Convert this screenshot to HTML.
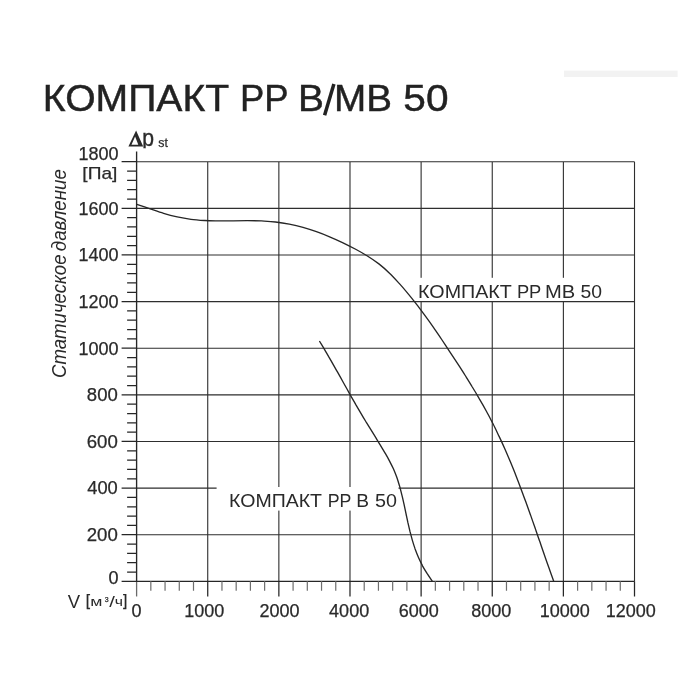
<!DOCTYPE html>
<html><head><meta charset="utf-8"><title>КОМПАКТ РР В/МВ 50</title>
<style>html,body{margin:0;padding:0;background:#fff;}body{width:700px;height:700px;overflow:hidden;position:relative;font-family:"Liberation Sans",sans-serif;}svg{position:absolute;left:0;top:0;will-change:transform;}text{font-family:"Liberation Sans",sans-serif;}.s text,text.s{stroke:#2a2a2a;stroke-width:0.25px;}</style></head><body>
<svg width="700" height="700" viewBox="0 0 700 700">
<rect x="0" y="0" width="700" height="700" fill="#ffffff"/>
<rect x="564" y="70.6" width="113.6" height="6.4" fill="#f2f2f2"/>
<text x="42.80" y="111.40" font-size="37.5" fill="#222222" textLength="186.40" lengthAdjust="spacingAndGlyphs" stroke="#222222" stroke-width="0.45">КОМПАКТ</text>
<text x="239.91" y="111.40" font-size="37.5" fill="#222222" textLength="48.61" lengthAdjust="spacingAndGlyphs" stroke="#222222" stroke-width="0.45">РР</text>
<text x="297.91" y="111.40" font-size="37.5" fill="#222222" textLength="25.94" lengthAdjust="spacingAndGlyphs" stroke="#222222" stroke-width="0.45">В</text>
<path d="M324.6 115.2L333.9 84.0" stroke="#222222" stroke-width="3.5" fill="none"/>
<text x="334.03" y="111.40" font-size="37.5" fill="#222222" textLength="58.01" lengthAdjust="spacingAndGlyphs" stroke="#222222" stroke-width="0.45">МВ</text>
<text x="403.37" y="111.40" font-size="37.5" fill="#222222" textLength="45.22" lengthAdjust="spacingAndGlyphs" stroke="#222222" stroke-width="0.45">50</text>
<path d="M207.73 161.70V581.37M278.86 161.70V581.37M349.99 161.70V581.37M421.12 161.70V581.37M492.25 161.70V581.37M563.38 161.70V581.37M634.51 161.70V581.37M136.60 161.70H634.51M136.60 208.33H634.51M136.60 254.96H634.51M136.60 301.59H634.51M136.60 348.22H634.51M136.60 394.85H634.51M136.60 441.48H634.51M136.60 488.11H634.51M136.60 534.74H634.51" stroke="#2e2e2e" stroke-width="1.1" fill="none"/>
<rect x="417" y="277.8" width="190" height="23.2" fill="#fff"/>
<rect x="216.6" y="487.0" width="181.9" height="23.6" fill="#fff"/>
<path d="M136.60 581.37V596.47" stroke="#6a6a6a" stroke-width="1.3" fill="none"/>
<path d="M136.60 151.5V581.37M121.60 581.37H634.51" stroke="#262626" stroke-width="1.35" fill="none"/>
<path d="M121.60 161.70H136.60M127.10 171.03H136.60M127.10 180.35H136.60M127.10 189.68H136.60M127.10 199.00H136.60M121.60 208.33H136.60M127.10 217.66H136.60M127.10 226.98H136.60M127.10 236.31H136.60M127.10 245.63H136.60M121.60 254.96H136.60M127.10 264.29H136.60M127.10 273.61H136.60M127.10 282.94H136.60M127.10 292.26H136.60M121.60 301.59H136.60M127.10 310.92H136.60M127.10 320.24H136.60M127.10 329.57H136.60M127.10 338.89H136.60M121.60 348.22H136.60M127.10 357.55H136.60M127.10 366.87H136.60M127.10 376.20H136.60M127.10 385.52H136.60M121.60 394.85H136.60M127.10 404.18H136.60M127.10 413.50H136.60M127.10 422.83H136.60M127.10 432.15H136.60M121.60 441.48H136.60M127.10 450.81H136.60M127.10 460.13H136.60M127.10 469.46H136.60M127.10 478.78H136.60M121.60 488.11H136.60M127.10 497.44H136.60M127.10 506.76H136.60M127.10 516.09H136.60M127.10 525.41H136.60M121.60 534.74H136.60M127.10 544.07H136.60M127.10 553.39H136.60M127.10 562.72H136.60M127.10 572.04H136.60M207.73 581.37V596.47M278.86 581.37V596.47M349.99 581.37V596.47M421.12 581.37V596.47M492.25 581.37V596.47M563.38 581.37V596.47M634.51 581.37V596.47" stroke="#262626" stroke-width="1.25" fill="none"/>
<path d="M150.83 581.37V590.87M165.05 581.37V590.87M179.28 581.37V590.87M193.50 581.37V590.87M221.96 581.37V590.87M236.18 581.37V590.87M250.41 581.37V590.87M264.63 581.37V590.87M293.09 581.37V590.87M307.31 581.37V590.87M321.54 581.37V590.87M335.76 581.37V590.87M364.22 581.37V590.87M378.44 581.37V590.87M392.67 581.37V590.87M406.89 581.37V590.87M435.35 581.37V590.87M449.57 581.37V590.87M463.80 581.37V590.87M478.02 581.37V590.87M506.48 581.37V590.87M520.70 581.37V590.87M534.93 581.37V590.87M549.15 581.37V590.87M577.61 581.37V590.87M591.83 581.37V590.87M606.06 581.37V590.87M620.28 581.37V590.87" stroke="#6e6e6e" stroke-width="1.2" fill="none"/>
<path id="mb" d="M136.8 204.3C139.0 205.0 145.7 207.3 150.2 208.8C154.6 210.3 159.1 212.0 163.6 213.3C168.1 214.7 172.6 215.9 177.2 216.9C181.7 217.9 186.3 218.7 191.0 219.3C195.6 219.9 200.3 220.2 204.9 220.5C209.6 220.8 214.3 220.8 219.0 220.9C223.7 220.9 228.5 220.8 233.2 220.8C237.9 220.8 242.6 220.7 247.4 220.7C252.1 220.7 256.8 220.7 261.5 220.9C266.2 221.2 270.8 221.4 275.5 222.0C280.1 222.5 284.7 223.2 289.3 224.1C293.9 225.0 298.5 226.1 303.0 227.4C307.5 228.7 312.0 230.1 316.4 231.7C320.9 233.3 325.3 235.0 329.6 236.8C334.0 238.6 338.3 240.6 342.5 242.6C346.8 244.7 351.0 246.8 355.2 249.0C359.3 251.2 363.4 253.5 367.4 256.0C371.4 258.5 375.2 261.1 378.9 263.9C382.6 266.8 386.1 269.9 389.5 273.2C392.9 276.4 396.0 279.9 399.2 283.4C402.4 286.9 405.4 290.5 408.4 294.1C411.4 297.7 414.3 301.4 417.2 305.1C420.1 308.8 422.8 312.6 425.6 316.4C428.4 320.2 431.1 324.0 433.8 327.9C436.4 331.7 439.1 335.6 441.7 339.5C444.3 343.4 446.9 347.4 449.5 351.3C452.1 355.2 454.7 359.1 457.3 363.1C459.8 367.0 462.4 371.0 464.9 375.0C467.4 379.0 469.9 382.9 472.3 387.0C474.8 391.0 477.2 395.0 479.5 399.1C481.9 403.1 484.2 407.2 486.4 411.3C488.7 415.4 490.8 419.6 493.0 423.8C495.1 427.9 497.1 432.2 499.1 436.4C501.1 440.6 503.1 444.9 505.0 449.2C506.9 453.5 508.7 457.8 510.5 462.1C512.3 466.5 514.1 470.8 515.8 475.2C517.5 479.6 519.2 484.0 520.8 488.4C522.5 492.8 524.1 497.2 525.7 501.6C527.3 506.1 528.9 510.5 530.5 514.9C532.1 519.4 533.6 523.8 535.2 528.3C536.7 532.7 538.2 537.2 539.8 541.6C541.3 546.0 542.8 550.5 544.4 554.9C545.9 559.3 547.5 563.8 549.1 568.2C550.6 572.6 553.0 579.2 553.8 581.4" stroke="#262626" stroke-width="1.35" fill="none"/>
<path id="b" d="M319.4 341.0C320.2 342.3 322.6 346.3 324.2 348.9C325.7 351.6 327.3 354.2 328.8 356.9C330.4 359.6 331.9 362.2 333.4 364.9C334.9 367.6 336.5 370.3 338.0 372.9C339.5 375.6 341.0 378.3 342.5 381.0C344.0 383.7 345.5 386.4 347.0 389.0C348.5 391.7 350.0 394.4 351.5 397.1C353.1 399.8 354.6 402.4 356.1 405.1C357.7 407.8 359.2 410.4 360.8 413.1C362.3 415.7 363.9 418.4 365.5 421.0C367.1 423.6 368.7 426.3 370.4 428.9C372.0 431.5 373.6 434.1 375.2 436.7C376.8 439.4 378.5 442.0 380.0 444.6C381.6 447.3 383.2 449.9 384.8 452.6C386.3 455.2 387.9 457.9 389.3 460.6C390.7 463.3 392.1 466.0 393.4 468.8C394.6 471.6 395.8 474.5 396.8 477.3C397.8 480.2 398.7 483.2 399.6 486.1C400.4 489.1 401.2 492.1 401.9 495.1C402.7 498.1 403.3 501.1 404.0 504.1C404.6 507.1 405.3 510.2 405.9 513.2C406.5 516.2 407.2 519.2 407.8 522.2C408.5 525.2 409.2 528.2 409.9 531.2C410.7 534.2 411.5 537.2 412.3 540.1C413.2 543.1 414.1 546.0 415.1 548.9C416.2 551.8 417.3 554.7 418.5 557.5C419.7 560.3 421.1 563.0 422.5 565.8C424.0 568.5 425.6 571.1 427.2 573.7C428.9 576.3 431.5 580.1 432.4 581.4" stroke="#262626" stroke-width="1.35" fill="none"/>
<text class="yl s" x="78.46" y="159.8" font-size="18" fill="#2a2a2a">1800</text>
<text class="yl s" x="78.46" y="214.7" font-size="18" fill="#2a2a2a">1600</text>
<text class="yl s" x="78.46" y="261.3" font-size="18" fill="#2a2a2a">1400</text>
<text class="yl s" x="78.46" y="307.9" font-size="18" fill="#2a2a2a">1200</text>
<text class="yl s" x="78.46" y="354.6" font-size="18" fill="#2a2a2a">1000</text>
<text x="86.89" y="401.20" font-size="18" fill="#2a2a2a" textLength="30.93" lengthAdjust="spacingAndGlyphs" class="yl s">800</text>
<text x="86.75" y="447.83" font-size="18" fill="#2a2a2a" textLength="31.07" lengthAdjust="spacingAndGlyphs" class="yl s">600</text>
<text x="87.28" y="494.46" font-size="18" fill="#2a2a2a" textLength="30.53" lengthAdjust="spacingAndGlyphs" class="yl s">400</text>
<text x="86.76" y="541.09" font-size="18" fill="#2a2a2a" textLength="31.06" lengthAdjust="spacingAndGlyphs" class="yl s">200</text>
<text class="yl s" x="108.49" y="584.4" font-size="18" fill="#2a2a2a">0</text>
<text class="xl s" x="131.39" y="617.3" font-size="18" fill="#2a2a2a">0</text>
<text class="xl s" x="184.24" y="617.3" font-size="18" fill="#2a2a2a">1000</text>
<text class="xl s" x="259.48" y="617.3" font-size="18" fill="#2a2a2a">2000</text>
<text class="xl s" x="329.12" y="617.3" font-size="18" fill="#2a2a2a">4000</text>
<text class="xl s" x="398.67" y="617.3" font-size="18" fill="#2a2a2a">6000</text>
<text class="xl s" x="471.34" y="617.3" font-size="18" fill="#2a2a2a">8000</text>
<text class="xl s" x="539.64" y="617.3" font-size="18" fill="#2a2a2a">10000</text>
<text class="xl s" x="605.84" y="617.3" font-size="18" fill="#2a2a2a">12000</text>
<text id="pa" x="82.34" y="178.60" font-size="17" fill="#2a2a2a" textLength="35.03" lengthAdjust="spacingAndGlyphs" class="s">[Па]</text>
<path d="M128.4 146.6L136.1 130.4L143.2 146.6ZM131.5 144.8L138.3 144.8L135.1 136.4Z" fill="#2a2a2a" fill-rule="evenodd"/>
<clipPath id="cp"><rect x="140" y="120" width="30" height="28.2"/></clipPath>
<g clip-path="url(#cp)"><g transform="translate(0 146.5) scale(1 1.18) translate(0 -146.5)">
<text id="p" x="142.34" y="146.50" font-size="21" fill="#2a2a2a" textLength="11.75" lengthAdjust="spacingAndGlyphs" stroke="#2a2a2a" stroke-width="0.35">p</text>
</g></g>
<text id="st" x="158.36" y="147.40" font-size="12.5" fill="#2a2a2a" textLength="9.64" lengthAdjust="spacingAndGlyphs" class="s">st</text>
<text id="v" x="67.82" y="607.60" font-size="18" fill="#2a2a2a" textLength="12.36" lengthAdjust="spacingAndGlyphs">V</text>
<text x="85.79" y="606.30" font-size="16.3" fill="#2a2a2a" textLength="4.33" lengthAdjust="spacingAndGlyphs" class="s">[</text>
<text x="90.38" y="606.20" font-size="13" fill="#2a2a2a" textLength="12.14" lengthAdjust="spacingAndGlyphs">м</text>
<text x="104.73" y="601.80" font-size="6.8" fill="#2a2a2a" textLength="3.87" lengthAdjust="spacingAndGlyphs" class="s">3</text>
<text x="109.20" y="606.60" font-size="14.5" fill="#2a2a2a" textLength="5.60" lengthAdjust="spacingAndGlyphs">/</text>
<text x="114.66" y="606.20" font-size="13" fill="#2a2a2a" textLength="8.25" lengthAdjust="spacingAndGlyphs">ч</text>
<text x="123.08" y="606.30" font-size="16.3" fill="#2a2a2a" textLength="4.33" lengthAdjust="spacingAndGlyphs" class="s">]</text>
<g transform="translate(66.1 0) rotate(-90)">
<text x="-378.02" y="0.00" font-size="19.5" fill="#2a2a2a" font-style="italic" textLength="123.51" lengthAdjust="spacingAndGlyphs">Статическое</text>
<text x="-251.21" y="0.00" font-size="19.5" fill="#2a2a2a" font-style="italic" textLength="82.10" lengthAdjust="spacingAndGlyphs">давление</text>
</g>
<text x="418.09" y="297.80" font-size="18" fill="#2a2a2a" textLength="93.76" lengthAdjust="spacingAndGlyphs">КОМПАКТ</text>
<text x="516.90" y="297.80" font-size="18" fill="#2a2a2a" textLength="24.47" lengthAdjust="spacingAndGlyphs">РР</text>
<text x="544.95" y="297.80" font-size="18" fill="#2a2a2a" textLength="30.21" lengthAdjust="spacingAndGlyphs">МВ</text>
<text x="580.42" y="297.80" font-size="18" fill="#2a2a2a" textLength="21.53" lengthAdjust="spacingAndGlyphs">50</text>
<text x="229.10" y="507.10" font-size="17.8" fill="#2a2a2a" textLength="92.94" lengthAdjust="spacingAndGlyphs">КОМПАКТ</text>
<text x="327.74" y="507.10" font-size="17.8" fill="#2a2a2a" textLength="23.69" lengthAdjust="spacingAndGlyphs">РР</text>
<text x="356.33" y="507.10" font-size="17.8" fill="#2a2a2a" textLength="12.78" lengthAdjust="spacingAndGlyphs">В</text>
<text x="374.91" y="507.10" font-size="17.8" fill="#2a2a2a" textLength="21.96" lengthAdjust="spacingAndGlyphs">50</text>
</svg></body></html>
